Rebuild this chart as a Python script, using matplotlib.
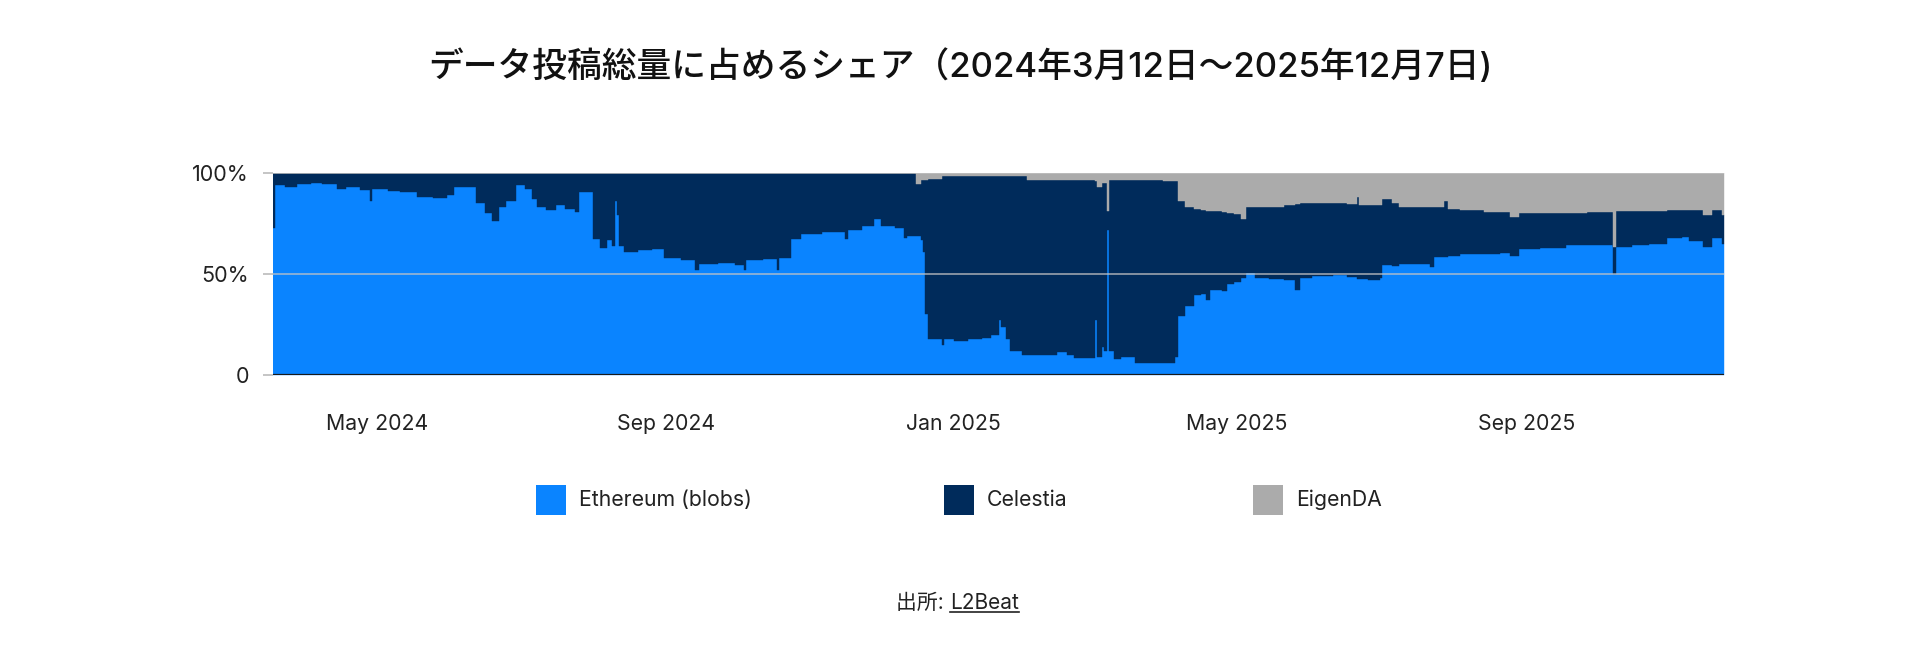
import numpy as np
import matplotlib.pyplot as plt
import matplotlib.dates as mdates
from matplotlib.patches import Rectangle
from matplotlib.lines import Line2D

plt.rcParams['font.family'] = ['Inter', 'Noto Sans CJK JP', 'DejaVu Sans']

# share of total data posted (%)
start = np.datetime64('2024-03-18')
day_offset = [0, 1, 5, 10, 16, 21, 27, 31, 37, 41, 42, 49, 54, 61, 68, 74, 77, 83, 86, 90,
              93, 96, 99, 103, 107, 110, 112, 116, 120, 124, 128, 130, 136, 139, 142, 144, 145, 146, 147, 149,
              155, 161, 166, 173, 179, 181, 189, 196, 200, 201, 208, 214, 215, 220, 224, 233, 243, 244, 250, 255,
              258, 264, 268, 269, 273, 275, 276, 277, 278, 284, 285, 289, 295, 301, 305, 308, 309, 311, 313, 318,
              320, 329, 333, 337, 340, 348, 349, 350, 352, 353, 354, 355, 357, 360, 366, 378, 383, 384, 387, 391,
              394, 396, 398, 403, 405, 408, 411, 413, 417, 423, 429, 434, 436, 441, 450, 456, 460, 461, 465, 470,
              471, 475, 478, 485, 491, 493, 497, 499, 504, 514, 521, 525, 529, 538, 549, 558, 569, 570, 577, 584,
              592, 598, 601, 607, 611, 615, 616]
ethereum = [73, 94, 93, 94.5, 95, 94.5, 92, 93, 91.5, 86, 92, 91, 90.5, 88, 87.5, 89, 93, 93, 85, 80,
            76, 83, 86, 94, 92, 87, 83, 81.5, 84, 82, 80.5, 90.5, 67.5, 63, 67, 64, 86, 79, 64, 61,
            62, 62.5, 58, 57, 52, 55, 55.5, 54.5, 52, 57, 57.5, 52, 58, 67.5, 70, 71, 67.5, 72, 74, 77,
            74, 73, 68, 69, 69, 67, 61, 30, 18, 15, 18, 17, 18, 18.5, 20, 27, 24, 18, 12, 10,
            10, 10, 11.5, 10, 8.6, 8.6, 27, 9, 14, 12, 72, 12, 7.8, 9, 5.8, 6, 9, 29, 34, 39.6,
            40, 37, 42, 41.5, 45, 46, 48, 50.6, 48, 47.5, 47, 42, 48, 49, 49.5, 48.5, 47.5, 47.5, 47, 48,
            54.5, 54, 55, 55, 53.5, 58.5, 58.5, 59, 60, 60, 60.5, 59, 62.5, 63, 64.5, 64.5, 50, 63.5, 64.5, 65,
            68, 68.5, 66.5, 63.5, 68, 65, 65]
celestia = [27, 6, 7, 5.5, 5, 5.5, 8, 7, 8.5, 14, 8, 9, 9.5, 12, 12.5, 11, 7, 7, 15, 20,
            24, 17, 14, 6, 8, 13, 17, 18.5, 16, 18, 19.5, 9.5, 32.5, 37, 33, 36, 14, 21, 36, 39,
            38, 37.5, 42, 43, 48, 45, 44.5, 45.5, 48, 43, 42.5, 48, 42, 32.5, 30, 29, 32.5, 28, 26, 23,
            26, 27, 32, 31, 25.7, 29.4, 35.4, 66.4, 79, 83.4, 80.4, 81.4, 80.4, 79.9, 78.4, 71.4, 74.4, 80.4, 86.4, 88.4,
            86.7, 86.7, 85.2, 86.7, 88.1, 87.9, 69, 84, 81, 83, 9, 84.7, 88.9, 87.5, 90.7, 90.2, 87, 57, 49, 42.4,
            41.5, 44, 39, 39, 35, 33.5, 29, 32.4, 35, 35.5, 37, 42.5, 37, 36, 35.5, 36, 40.5, 36.5, 37, 36,
            32.5, 31, 28, 28, 29.5, 24.5, 27.5, 23, 21.5, 20.7, 20.2, 19, 17.5, 17, 15.5, 16, 13.5, 17.5, 16.5, 16,
            13.7, 13.2, 15, 15.5, 13.7, 14, 14]
eigenda = [0, 0, 0, 0, 0, 0, 0, 0, 0, 0, 0, 0, 0, 0, 0, 0, 0, 0, 0, 0,
           0, 0, 0, 0, 0, 0, 0, 0, 0, 0, 0, 0, 0, 0, 0, 0, 0, 0, 0, 0,
           0, 0, 0, 0, 0, 0, 0, 0, 0, 0, 0, 0, 0, 0, 0, 0, 0, 0, 0, 0,
           0, 0, 0, 0, 5.3, 3.6, 3.6, 3.6, 3, 1.6, 1.6, 1.6, 1.6, 1.6, 1.6, 1.6, 1.6, 1.6, 1.6, 1.6,
           3.3, 3.3, 3.3, 3.3, 3.3, 3.5, 4, 7, 5, 5, 19, 3.3, 3.3, 3.5, 3.5, 3.8, 4, 14, 17, 18,
           18.5, 19, 19, 19.5, 20, 20.5, 23, 17, 17, 17, 16, 15.5, 15, 15, 15, 15.5, 12, 16, 16, 16,
           13, 15, 17, 17, 17, 17, 14, 18, 18.5, 19.3, 19.3, 22, 20, 20, 20, 19.5, 36.5, 19, 19, 19,
           18.3, 18.3, 18.5, 21, 18.3, 21, 21]

series_names = ['Ethereum (blobs)', 'Celestia', 'EigenDA']
colors = ['#0A84FF', '#002B5B', '#ABABAB']
x_ticks = ['2024-05-01', '2024-09-01', '2025-01-01', '2025-05-01', '2025-09-01']
y_ticks = [0, 50, 100]
y_labels = ['0', '50%', '100%']
title = 'データ投稿総量に占めるシェア（2024年3月12日～2025年12月7日)'

dates = start + np.array(day_offset).astype('timedelta64[D]')
eth = np.array(ethereum)
cel = np.array(celestia)
eig = np.array(eigenda)

fig = plt.figure(figsize=(19.2, 6.59), dpi=100)
ax = fig.add_axes([273 / 1920, 1 - 375 / 659, 1451 / 1920, 202 / 659])

layers = [(0 * eth, eth), (eth, eth + cel), (eth + cel, eth + cel + eig)]
for (lo, hi), c in zip(layers, colors):
    ax.fill_between(dates, lo, hi, step='post', facecolor=c, edgecolor=c, lw=0.3)

ax.set_xlim(dates[0], dates[-1])
ax.set_ylim(0, 100)
for s in ax.spines.values():
    s.set_visible(False)

for y in y_ticks[1:]:
    ax.axhline(y, color='#c4c4c4', lw=1.1, alpha=0.85, zorder=3)
ax.axhline(0, color='#1a1a1a', lw=1.6, zorder=4)

ax.set_yticks(y_ticks, y_labels)
ax.tick_params(axis='y', length=7.2, width=1.1, color='#b5b5b5', pad=10, labelsize=15.5, labelcolor='#222222')
ax.yaxis.get_major_ticks()[0].tick1line.set_color('#1a1a1a')

ax.set_xticks(np.array(x_ticks, dtype='datetime64[D]'))
ax.xaxis.set_major_formatter(mdates.DateFormatter('%b %Y'))
ax.tick_params(axis='x', length=0, pad=28, labelsize=15.3, labelcolor='#222222')

fig.text(0.5, 1 - 67 / 659, title, ha='center', va='center', fontsize=25,
         fontweight='medium', color='#111111')

# legend
legend_x = [536, 944, 1253]
for name, c, lx in zip(series_names, colors, legend_x):
    fig.patches.append(Rectangle((lx / 1920, 1 - 515 / 659), 30 / 1920, 30 / 659,
                                 transform=fig.transFigure, facecolor=c, edgecolor='none'))
    fig.text((lx + 43) / 1920, 1 - 500 / 659, name, ha='left', va='center',
             fontsize=15.3, color='#222222')

# source line
sx, sy = 950 / 1920, 1 - 603 / 659
fig.text(sx, sy, '出所: ', ha='right', va='center', fontsize=15, color='#222222')
link = fig.text(sx, sy, 'L2Beat', ha='left', va='center', fontsize=15, color='#222222')
fig.canvas.draw()
bb = link.get_window_extent().transformed(fig.transFigure.inverted())
fig.add_artist(Line2D([bb.x0, bb.x1], [bb.y0 + 0.001, bb.y0 + 0.001],
                      transform=fig.transFigure, color='#222222', lw=1.2))

fig.savefig('out.png', dpi=100)
